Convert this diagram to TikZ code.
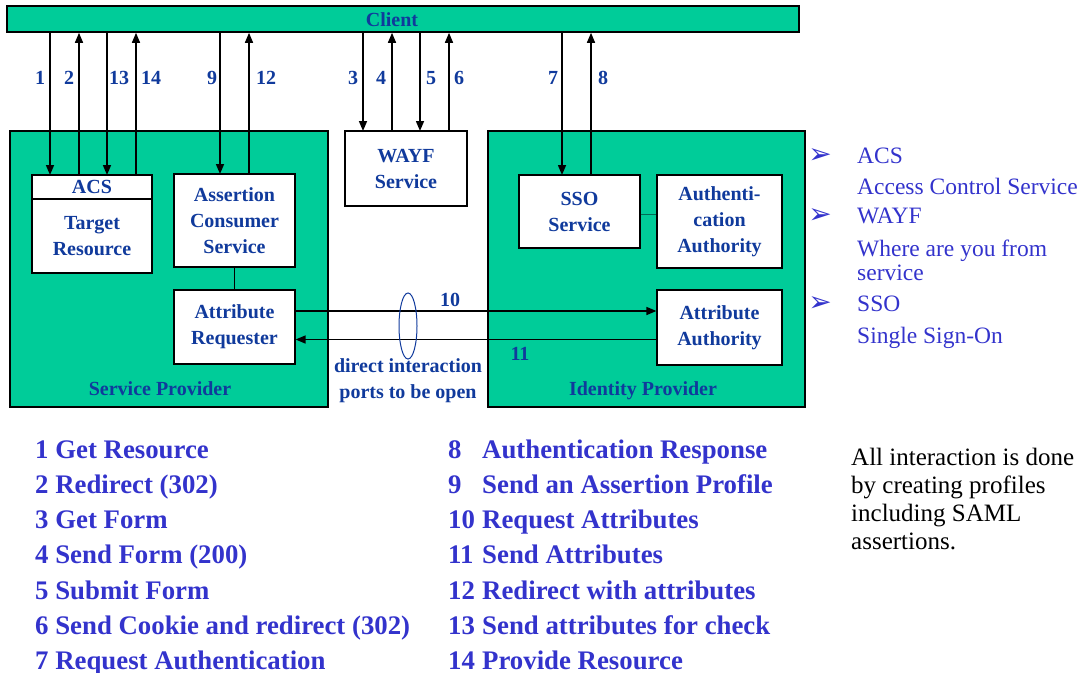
\documentclass[tikz,border=0pt]{standalone}
\usepackage{fontspec}
\setmainfont{Liberation Serif}
\newfontfamily\dejavu{DejaVu Sans}
\usetikzlibrary{arrows.meta,calc,shapes.geometric}
\definecolor{spgreen}{HTML}{00CC99}
\definecolor{boxblue}{HTML}{103A9C}
\definecolor{listblue}{HTML}{3333CC}
\definecolor{linkgreen}{HTML}{006B55}
\begin{document}
\begin{tikzpicture}[x=1pt,y=-1pt,
  greenbox/.style={draw=black,line width=1.6pt,fill=spgreen,inner sep=0pt},
  whitebox/.style={draw=black,line width=1.2pt,fill=white,inner sep=0pt,align=center,
     font=\fontsize{20}{26}\selectfont\bfseries,text=boxblue},
  lbl/.style={font=\fontsize{20}{26}\selectfont\bfseries,text=boxblue,inner sep=0pt},
  arr/.style={line width=1.5pt,-{Triangle[length=10pt,width=8pt]}},
  legend/.style={font=\fontsize{23.5}{28}\selectfont,text=listblue,inner sep=0pt,anchor=base west},
  bullet/.style={font=\dejavu\fontsize{28}{30}\selectfont,text=listblue,inner sep=0pt,anchor=base},
  steps/.style={font=\fontsize{26.8}{32}\selectfont\bfseries,text=listblue,inner sep=0pt,anchor=base west},
  note/.style={font=\fontsize{25}{28}\selectfont,text=black,inner sep=0pt,anchor=base west}
]
\useasboundingbox (0,0) rectangle (1081,672);

% client bar
\node[greenbox,minimum width=792,minimum height=26] (client) at (403,19) {};
\node[lbl,anchor=base] (clientlbl) at (392,26) {Client};

% big green boxes
\node[greenbox,minimum width=318,minimum height=276] (sp) at (169,269) {};
\node[greenbox,minimum width=317,minimum height=276] (idp) at (646.5,269) {};
\node[lbl,anchor=base] (splbl) at (160,395) {Service Provider};
\node[lbl,anchor=base] (idplbl) at (643,395) {Identity Provider};

% WAYF
\node[whitebox,minimum width=122,minimum height=75] (wayf) at (406,168.5) {WAYF\\Service};

% Service provider internals
\node[whitebox,minimum width=120,minimum height=24] (acs) at (92,187) {ACS};
\node[whitebox,minimum width=120,minimum height=74] (tr) at (92,236) {Target\\Resource};
\node[whitebox,minimum width=121,minimum height=93] (acsv) at (234.5,220.5) {Assertion\\Consumer\\Service};
\node[whitebox,minimum width=121,minimum height=74] (ar) at (234.5,327) {Attribute\\Requester};

% Identity provider internals
\node[whitebox,minimum width=121,minimum height=73] (sso) at (579.5,211.5) {SSO\\Service};
\node[whitebox,minimum width=125,minimum height=93] (aa) at (719.5,221.5) {Authenti-\\cation\\Authority};
\node[whitebox,minimum width=125,minimum height=75] (ata) at (719.5,327.5) {Attribute\\Authority};

% internal links
\draw[line width=0.8pt] (acsv.south) -- (ar.north);
\draw[linkgreen,line width=1.5pt] ([yshift=-3pt]sso.east) -- ([yshift=-3pt]sso.east -| aa.west);

% arrow anchor coordinates on box tops
\coordinate (p1) at (50,175);
\coordinate (p2) at (79,175);
\coordinate (p13) at (107,175);
\coordinate (p14) at (136,175);
\coordinate (p9) at (220,174);
\coordinate (p12) at (249,174);
\coordinate (p3) at (363,131);
\coordinate (p4) at (392,131);
\coordinate (p5) at (420,131);
\coordinate (p6) at (449,131);
\coordinate (p7) at (562,175);
\coordinate (p8) at (591,175);

\draw[arr] (client.south -| p1) -- (p1);
\draw[arr] (p2) -- (client.south -| p2);
\draw[arr] (client.south -| p13) -- (p13);
\draw[arr] (p14) -- (client.south -| p14);
\draw[arr] (client.south -| p9) -- (p9);
\draw[arr] (p12) -- (client.south -| p12);
\draw[arr] (client.south -| p3) -- (p3);
\draw[arr] (p4) -- (client.south -| p4);
\draw[arr] (client.south -| p5) -- (p5);
\draw[arr] (p6) -- (client.south -| p6);
\draw[arr] (client.south -| p7) -- (p7);
\draw[arr] (p8) -- (client.south -| p8);

% arrow labels
\node[lbl,anchor=base] (n1) at (40,84) {1};
\node[lbl,anchor=base] (n2) at (69,84) {2};
\node[lbl,anchor=base] (n13) at (119,84) {13};
\node[lbl,anchor=base] (n14) at (151,84) {14};
\node[lbl,anchor=base] (n9) at (212,84) {9};
\node[lbl,anchor=base] (n12) at (266,84) {12};
\node[lbl,anchor=base] (n3) at (353,84) {3};
\node[lbl,anchor=base] (n4) at (381,84) {4};
\node[lbl,anchor=base] (n5) at (431,84) {5};
\node[lbl,anchor=base] (n6) at (459,84) {6};
\node[lbl,anchor=base] (n7) at (553,84) {7};
\node[lbl,anchor=base] (n8) at (603,84) {8};

% attribute exchange
\draw[arr] ([yshift=16pt]ar.east) -- ([yshift=16pt]ar.east -| ata.west);
\draw[arr] ([yshift=-12pt]ata.west) -- ([yshift=-12pt]ata.west -| ar.east);
\node[lbl,anchor=base] (n10) at (450,306) {10};
\node[lbl,anchor=base] (n11) at (520,360) {11};
\node[draw=boxblue,line width=1pt,ellipse,minimum width=18,minimum height=66,inner sep=0pt] (ell) at (408,326) {};
\node[lbl,anchor=base,align=center] (ports) at (408,398) {direct interaction\\ports to be open};

% legend
\node[bullet] (b1) at (820,163) {➢};
\node[bullet] (b2) at (820,223) {➢};
\node[bullet] (b3) at (820,311) {➢};
\node[legend] (l1) at (857,163) {ACS};
\node[legend] (l2) at (857,194) {Access Control Service};
\node[legend] (l3) at (857,223) {WAYF};
\node[legend] (l4) at (857,256) {Where are you from};
\node[legend] (l5) at (857,280) {service};
\node[legend] (l6) at (857,311) {SSO};
\node[legend] (l7) at (857,343) {Single Sign-On};

% step list
\node[steps] (s1) at (35,458) {1 Get Resource};
\node[steps] (s2) at (35,493) {2 Redirect (302)};
\node[steps] (s3) at (35,528) {3 Get Form};
\node[steps] (s4) at (35,563) {4 Send Form (200)};
\node[steps] (s5) at (35,599) {5 Submit Form};
\node[steps] (s6) at (35,634) {6 Send Cookie and redirect (302)};
\node[steps] (s7) at (35,669) {7 Request Authentication};

\node[steps] (r8) at (448,458) {8};
\node[steps] (r9) at (448,493) {9};
\node[steps] (r10) at (448,528) {10};
\node[steps] (r11) at (448,563) {11};
\node[steps] (r12) at (448,599) {12};
\node[steps] (r13) at (448,634) {13};
\node[steps] (r14) at (448,669) {14};
\node[steps] (t8) at (482,458) {Authentication Response};
\node[steps] (t9) at (482,493) {Send an Assertion Profile};
\node[steps] (t10) at (482,528) {Request Attributes};
\node[steps] (t11) at (482,563) {Send Attributes};
\node[steps] (t12) at (482,599) {Redirect with attributes};
\node[steps] (t13) at (482,634) {Send attributes for check};
\node[steps] (t14) at (482,669) {Provide Resource};

% note
\node[note] (m1) at (851,465) {All interaction is done};
\node[note] (m2) at (851,493) {by creating profiles};
\node[note] (m3) at (851,521) {including SAML};
\node[note] (m4) at (851,549) {assertions.};
\end{tikzpicture}
\end{document}
